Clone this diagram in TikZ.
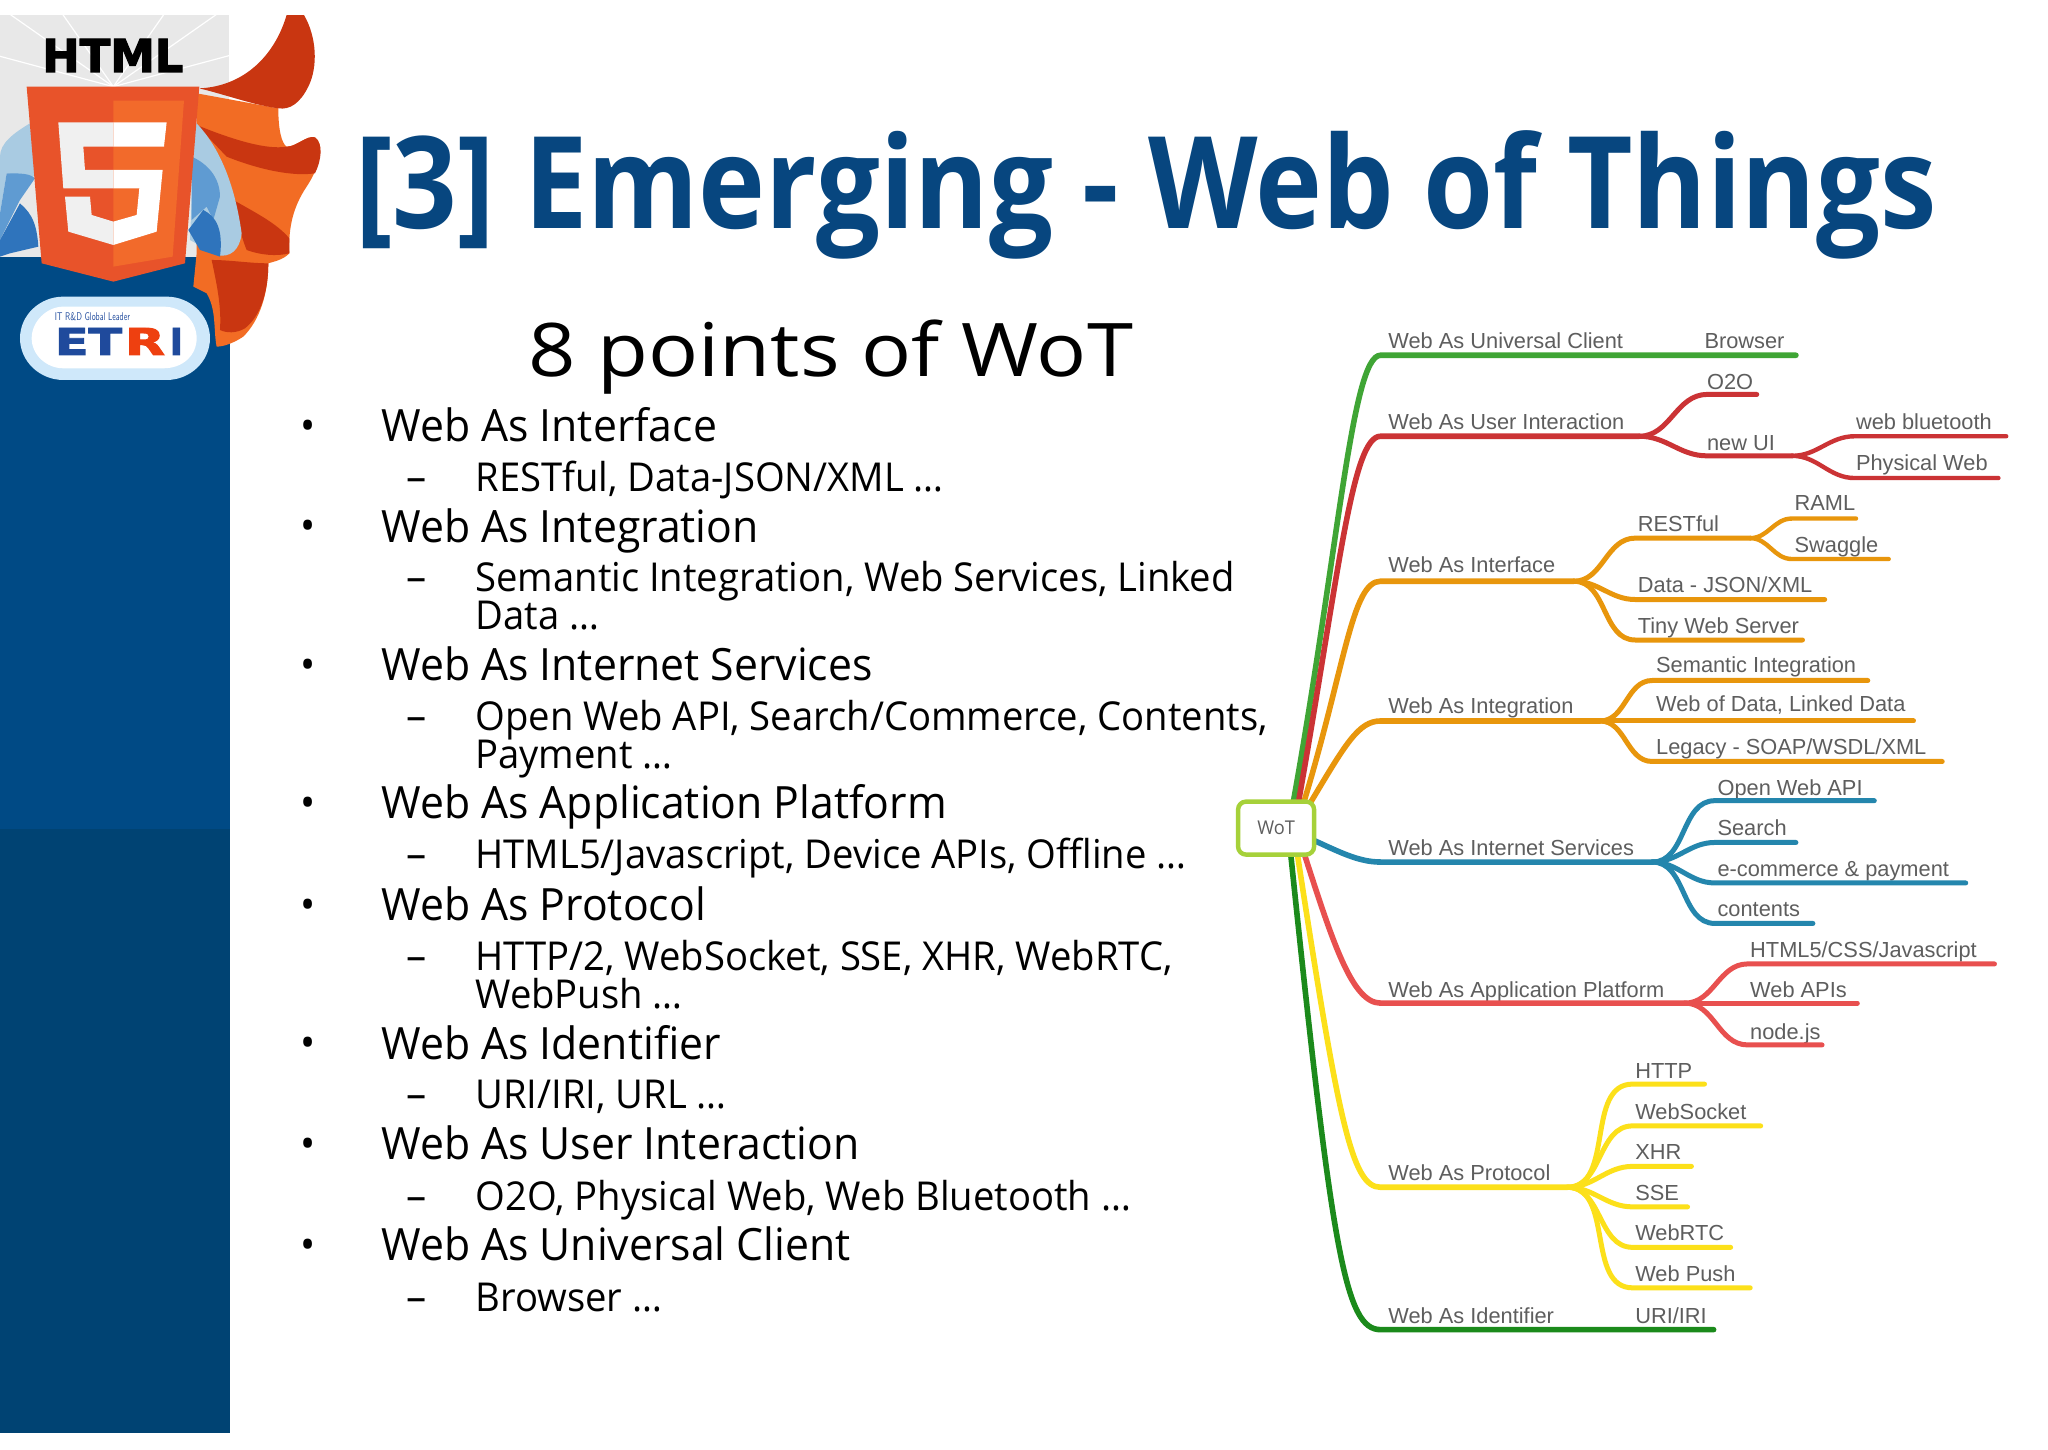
\documentclass[tikz,border=0pt]{standalone}
\usepackage{fontspec}
\usepackage{graphicx}
\setmainfont{Open Sans}[FakeStretch=0.96]
\newfontfamily\titlefont{Open Sans}
\newfontfamily\mapfont{Liberation Sans}
\newfontfamily\heavy{DejaVu Sans}[BoldFont=* Bold,BoldFeatures={FakeBold=2.5}]
\definecolor{panel}{HTML}{004A85}
\definecolor{panelB}{HTML}{004373}
\definecolor{titleblue}{HTML}{07467F}
\definecolor{shieldA}{HTML}{E8532A}
\definecolor{shieldB}{HTML}{F26A2B}
\definecolor{capeL}{HTML}{F26C24}
\definecolor{capeD}{HTML}{C93611}
\definecolor{skyA}{HTML}{A9CBE2}
\definecolor{skyB}{HTML}{5F9BD2}
\definecolor{skyC}{HTML}{2F74BC}
\definecolor{badge}{HTML}{CFE8FA}
\definecolor{etriblue}{HTML}{1F4A9C}
\definecolor{etrired}{HTML}{EE4010}
\definecolor{mapgrey}{HTML}{5E5E5E}
\definecolor{cGreen}{HTML}{3FA535}
\definecolor{cRed}{HTML}{CB3335}
\definecolor{cOrange}{HTML}{E8960C}
\definecolor{cBlue}{HTML}{2486AD}
\definecolor{cCoral}{HTML}{E8504F}
\definecolor{cYellow}{HTML}{FCE01A}
\definecolor{cDark}{HTML}{1B8A1B}
\definecolor{wotlime}{HTML}{A6D13A}
\tikzset{
  every node/.style={inner sep=0pt,outer sep=0pt},
  head1/.style={anchor=base west,font=\fontsize{44.5}{44.5}\selectfont,text=black},
  head2/.style={anchor=base west,font=\fontsize{39.8}{40}\selectfont,text=black},
  mark1/.style={anchor=base,font=\fontsize{42}{42}\selectfont},
  maplab/.style={anchor=base west,font=\mapfont\fontsize{21.8}{24}\selectfont,text=mapgrey},
  trunk/.style={line width=5.6pt,line cap=round},
  limb/.style={line width=5pt,line cap=round},
  twig/.style={line width=4.4pt,line cap=round},
  sc/.style={out=0,in=180},
}
\begin{document}
\begin{tikzpicture}[x=1.30612pt,y=-1.30612pt]
\useasboundingbox (0,0) rectangle (1568,1109.4);
\fill[white] (0,0) rectangle (1568,1109.4);
% side panel
\fill[panel] (0,150) rectangle (176,634.7);
\fill[panelB] (0,634.7) rectangle (176,1097);
% logo artwork, in px of the reference
\begin{scope}[x=0.3333pt,y=-0.3333pt]
  \fill[gray!18] (0,45) rectangle (688,770);
  \foreach \a in {15,35,55,125,145,165} \draw[white,line width=1.2pt] (340,260) -- ++(\a:-700) ;
  \fill[white] (688,45) rectangle (1000,800);
  \fill[panel] (0,770) rectangle (688,1200);
  % cape
  \fill[capeL] (590,280) -- (835,325) .. controls (835,390) and (845,430) .. (860,440)
     .. controls (890,440) and (920,405) .. (945,412) .. controls (975,430) and (960,500) .. (920,560)
     .. controls (880,620) and (865,680) .. (868,760) .. controls (850,780) and (820,785) .. (805,790)
     .. controls (805,880) and (780,960) .. (730,1010) .. controls (700,1030) and (670,1040) .. (650,1040)
     .. controls (640,990) and (650,930) .. (620,880) -- (580,860) -- (590,760) -- cycle;
  \fill[capeD] (598,265) .. controls (720,260) and (820,180) .. (860,45) -- (912,45)
     .. controls (950,110) and (955,200) .. (925,260) .. controls (900,310) and (870,330) .. (835,325)
     .. controls (760,315) and (680,285) .. (598,265) -- cycle;
  \fill[capeD] (590,375) .. controls (700,420) and (800,450) .. (860,440)
     .. controls (890,440) and (920,405) .. (945,412) .. controls (970,430) and (965,480) .. (945,520)
     .. controls (880,530) and (780,510) .. (680,470) -- cycle;
  \fill[capeD] (700,600) .. controls (770,640) and (830,670) .. (868,715) -- (868,760)
     .. controls (830,770) and (780,765) .. (740,750) .. controls (720,700) and (710,650) .. (700,600) -- cycle;
  \fill[capeD] (635,780) .. controls (690,780) and (750,790) .. (805,790)
     .. controls (805,880) and (780,950) .. (735,985) .. controls (710,1000) and (680,1000) .. (660,990)
     .. controls (665,920) and (650,850) .. (635,780) -- cycle;
  % figure
  \fill[skyA] (585,365) .. controls (640,420) and (700,520) .. (725,700)
     .. controls (720,750) and (690,775) .. (650,765) -- (570,720) -- cycle;
  \fill[skyB] (575,470) .. controls (620,490) and (660,530) .. (660,590) -- (640,660) -- (620,620) -- (575,660) -- cycle;
  \fill[skyC] (610,630) .. controls (650,650) and (670,690) .. (660,770) -- (600,750) -- (565,690) -- cycle;
  \fill[skyA] (90,370) .. controls (40,400) and (0,430) .. (0,470) -- (0,640) -- (20,520) -- (105,530) -- cycle;
  \fill[skyB] (20,520) .. controls (60,520) and (90,520) .. (105,535) -- (60,600) -- (0,720) -- (0,640) -- cycle;
  \fill[skyC] (60,610) .. controls (80,630) and (110,650) .. (115,740) -- (30,760) -- (0,770) -- (0,720) -- cycle;
  % shield
  \fill[shieldA] (80,260) -- (598,260) -- (555,790) -- (340,845) -- (125,790) -- cycle;
  \fill[shieldB] (340,302) -- (552,302) -- (518,770) -- (340,800) -- cycle;
  \fill[gray!12] (175,367) -- (340,367) -- (340,440) -- (250,440) -- (255,510) -- (340,510) -- (340,565)
     -- (190,565) -- cycle;
  \fill[gray!12] (195,590) -- (270,590) -- (275,645) -- (340,665) -- (340,735) -- (205,695) -- cycle;
  \fill[white] (340,367) -- (500,367) -- (492,440) -- (340,440) -- cycle;
  \fill[white] (340,510) -- (488,510) -- (470,695) -- (340,735) -- (340,665) -- (410,645) -- (418,565) -- (340,565) -- cycle;
  \node[anchor=south west] (html) at (127,216) {\resizebox{141pt}{33pt}{\heavy\bfseries HTML}};
  % ETRI badge
  \fill[badge] (60,1015) .. controls (60,945) and (120,890) .. (190,890) -- (500,890)
     .. controls (570,890) and (630,945) .. (630,1015) .. controls (630,1085) and (570,1140) .. (500,1140)
     -- (190,1140) .. controls (120,1140) and (60,1085) .. (60,1015) -- cycle;
  \fill[white] (95,1015) .. controls (95,965) and (140,920) .. (190,920) -- (490,920)
     .. controls (550,920) and (590,965) .. (590,1015) .. controls (590,1065) and (550,1105) .. (490,1105)
     -- (190,1105) .. controls (140,1105) and (95,1065) .. (95,1015) -- cycle;
  \node[anchor=base west,text=etriblue] (tagline) at (165,961) {\resizebox{75pt}{8pt}{\sffamily IT R\&D Global Leader}};
  \node[anchor=base west,text=etriblue] (etriA) at (165,1065) {\resizebox{67pt}{27pt}{\heavy\bfseries ET}};
  \node[anchor=base west,text=etrired] (etriB) at (375,1065) {\resizebox{40pt}{27pt}{\heavy\bfseries R}};
  \node[anchor=base west,text=etriblue] (etriC) at (510,1065) {\resizebox{13pt}{27pt}{\heavy\bfseries I}};
\end{scope}
% title
\node[anchor=base west,text=titleblue] (title) at (272,175) {\resizebox{1580pt}{!}{\scalebox{1}[1.13]{\titlefont\bfseries [3] Emerging - Web of Things}}};
\node[anchor=base,text=black] (sub) at (636,288) {\scalebox{1.17}[1]{\fontsize{74}{74}\selectfont 8 points of WoT}};
% list
\node[mark1] (b1) at (236,337) {•}; \node[head1] (t1) at (292,338) {Web As Interface};
\node[mark1] (d1) at (319,376) {–}; \node[head2] (s1) at (364,376) {RESTful, Data-JSON/XML …};
\node[mark1] (b2) at (236,414) {•}; \node[head1] (t2) at (292,415) {Web As Integration};
\node[mark1] (d2) at (319,453) {–}; \node[head2] (s2) at (364,453) {Semantic Integration, Web Services, Linked};
\node[head2] (s2b) at (364,482) {Data …};
\node[mark1] (b3) at (236,520) {•}; \node[head1] (t3) at (292,521) {Web As Internet Services};
\node[mark1] (d3) at (319,559) {–}; \node[head2] (s3) at (364,559) {Open Web API, Search/Commerce, Contents,};
\node[head2] (s3b) at (364,588) {Payment …};
\node[mark1] (b4) at (236,626) {•}; \node[head1] (t4) at (292,627) {Web As Application Platform};
\node[mark1] (d4) at (319,665) {–}; \node[head2] (s4) at (364,665) {HTML5/Javascript, Device APIs, Offline …};
\node[mark1] (b5) at (236,704) {•}; \node[head1] (t5) at (292,705) {Web As Protocol};
\node[mark1] (d5) at (319,743) {–}; \node[head2] (s5) at (364,743) {HTTP/2, WebSocket, SSE, XHR, WebRTC,};
\node[head2] (s5b) at (364,772) {WebPush …};
\node[mark1] (b6) at (236,810) {•}; \node[head1] (t6) at (292,811) {Web As Identifier};
\node[mark1] (d6) at (319,849) {–}; \node[head2] (s6) at (364,849) {URI/IRI, URL …};
\node[mark1] (b7) at (236,887) {•}; \node[head1] (t7) at (292,888) {Web As User Interaction};
\node[mark1] (d7) at (319,927) {–}; \node[head2] (s7) at (364,927) {O2O, Physical Web, Web Bluetooth …};
\node[mark1] (b8) at (236,964) {•}; \node[head1] (t8) at (292,965) {Web As Universal Client};
\node[mark1] (d8) at (319,1004) {–}; \node[head2] (s8) at (364,1004) {Browser …};
% mind map labels
\node[maplab] (uc) at (1063,267) {Web As Universal Client};
\node[maplab] (br) at (1305,267) {Browser};
\node[maplab] (ui) at (1063,329) {Web As User Interaction};
\node[maplab] (oo) at (1307,298) {O2O};
\node[maplab] (nu) at (1307,345) {new UI};
\node[maplab] (wb) at (1421,329) {web bluetooth};
\node[maplab] (pw) at (1421,360) {Physical Web};
\node[maplab] (wi) at (1063,438) {Web As Interface};
\node[maplab] (re) at (1254,407) {RESTful};
\node[maplab] (ra) at (1374,391) {RAML};
\node[maplab] (sw) at (1374,423) {Swaggle};
\node[maplab] (da) at (1254,454) {Data - JSON/XML};
\node[maplab] (ti) at (1254,485) {Tiny Web Server};
\node[maplab] (ig) at (1063,546) {Web As Integration};
\node[maplab] (se) at (1268,515) {Semantic Integration};
\node[maplab] (wd) at (1268,545) {Web of Data, Linked Data};
\node[maplab] (le) at (1268,578) {Legacy - SOAP/WSDL/XML};
\node[maplab] (is) at (1063,655) {Web As Internet Services};
\node[maplab] (op) at (1315,609) {Open Web API};
\node[maplab] (sr) at (1315,640) {Search};
\node[maplab] (ec) at (1315,671) {e-commerce \& payment};
\node[maplab] (co) at (1315,702) {contents};
\node[maplab] (ap) at (1063,764) {Web As Application Platform};
\node[maplab] (hc) at (1340,733) {HTML5/CSS/Javascript};
\node[maplab] (wa) at (1340,764) {Web APIs};
\node[maplab] (nd) at (1340,796) {node.js};
\node[maplab] (pr) at (1063,904) {Web As Protocol};
\node[maplab] (ht) at (1252,826) {HTTP};
\node[maplab] (ws) at (1252,857) {WebSocket};
\node[maplab] (xh) at (1252,888) {XHR};
\node[maplab] (ss) at (1252,919) {SSE};
\node[maplab] (rt) at (1252,950) {WebRTC};
\node[maplab] (wp) at (1252,981) {Web Push};
\node[maplab] (id) at (1063,1013) {Web As Identifier};
\node[maplab] (ur) at (1252,1013) {URI/IRI};
% mind map joints
\foreach \n/\x/\y in {
  aG/1057/272,eG/1375/272,
  aR/1057/334,fR/1255/334,jO/1307/302,eO/1345/302,jN/1307/349,fN/1372/349,jB/1420/334,eB/1536/334,jP/1420/366,eP/1530/366,
  aI/1057/445,fI/1205/445,jRe/1252/412,fRe/1340/412,jRa/1372/397,eRa/1421/397,jSw/1372/428,eSw/1446/428,jDa/1252/459,eDa/1397/459,jTi/1252/490,eTi/1380/490,
  aN/1057/552,fN2/1225/552,jSe/1265/521,eSe/1430/521,eWd/1465/552,jLe/1265/583,eLe/1487/583,
  aS/1057/660,fS/1265/660,jOp/1313/613,eOp/1435/613,jSr/1313/645,eSr/1375/645,jEc/1313/676,eEc/1505/676,jCo/1313/707,eCo/1388/707,
  aA/1057/768,fA/1290/768,jHc/1338/738,eHc/1527/738,eWa/1422/768,jNd/1338/800,eNd/1395/800,
  aP/1057/909,fP/1200/909,jHt/1250/830,eHt/1305/830,jWs/1250/862,eWs/1348/862,jXh/1250/893,eXh/1295/893,jSs/1250/924,eSs/1292/924,jRt/1250/955,eRt/1325/955,jWp/1250/986,eWp/1340/986,
  aD/1057/1018,eD/1312/1018,
  g1/990/615,g2/994/615,g3/998/615,g4/1003/615,g5/1005/643,g6/998/652,g7/993/652,g8/988/652}
  {\coordinate (\n) at (\x,\y);}
% trunks and branches
\draw[trunk,cGreen] (g1) .. controls (1025,420) and (1035,272) .. (aG) -- (eG);
\draw[trunk,cRed] (g2) .. controls (1025,440) and (1035,334) .. (aR) -- (fR);
\draw[limb,cRed] (fR) to[sc] (jO) -- (eO);
\draw[limb,cRed] (fR) to[sc] (jN) -- (fN);
\draw[twig,cRed] (fN) to[sc] (jB) -- (eB);
\draw[twig,cRed] (fN) to[sc] (jP) -- (eP);
\draw[trunk,cOrange] (g3) .. controls (1030,510) and (1035,445) .. (aI) -- (fI);
\draw[limb,cOrange] (fI) to[sc] (jRe) -- (fRe);
\draw[twig,cOrange] (fRe) to[sc] (jRa) -- (eRa);
\draw[twig,cOrange] (fRe) to[sc] (jSw) -- (eSw);
\draw[limb,cOrange] (fI) to[sc] (jDa) -- (eDa);
\draw[limb,cOrange] (fI) to[sc] (jTi) -- (eTi);
\draw[trunk,cOrange] (g4) .. controls (1030,570) and (1040,552) .. (aN) -- (fN2);
\draw[limb,cOrange] (fN2) to[sc] (jSe) -- (eSe);
\draw[limb,cOrange] (fN2) -- (eWd);
\draw[limb,cOrange] (fN2) to[sc] (jLe) -- (eLe);
\draw[trunk,cBlue] (g5) .. controls (1025,652) and (1040,660) .. (aS) -- (fS);
\draw[limb,cBlue] (fS) to[sc] (jOp) -- (eOp);
\draw[limb,cBlue] (fS) to[sc] (jSr) -- (eSr);
\draw[limb,cBlue] (fS) to[sc] (jEc) -- (eEc);
\draw[limb,cBlue] (fS) to[sc] (jCo) -- (eCo);
\draw[trunk,cCoral] (g6) .. controls (1020,720) and (1035,768) .. (aA) -- (fA);
\draw[limb,cCoral] (fA) to[sc] (jHc) -- (eHc);
\draw[limb,cCoral] (fA) -- (eWa);
\draw[limb,cCoral] (fA) to[sc] (jNd) -- (eNd);
\draw[trunk,cYellow] (g7) .. controls (1025,860) and (1035,909) .. (aP) -- (fP);
\draw[limb,cYellow] (fP) to[sc] (jHt) -- (eHt);
\draw[limb,cYellow] (fP) to[sc] (jWs) -- (eWs);
\draw[limb,cYellow] (fP) to[sc] (jXh) -- (eXh);
\draw[limb,cYellow] (fP) to[sc] (jSs) -- (eSs);
\draw[limb,cYellow] (fP) to[sc] (jRt) -- (eRt);
\draw[limb,cYellow] (fP) to[sc] (jWp) -- (eWp);
\draw[trunk,cDark] (g8) .. controls (1020,960) and (1030,1018) .. (aD) -- (eD);
% root
\node[draw=wotlime,line width=4.4pt,rounded corners=8pt,fill=white,minimum width=76pt,minimum height=53pt,
  font=\fontsize{19}{19}\selectfont,text=mapgrey] (wot) at (977,634) {WoT};
\end{tikzpicture}
\end{document}
